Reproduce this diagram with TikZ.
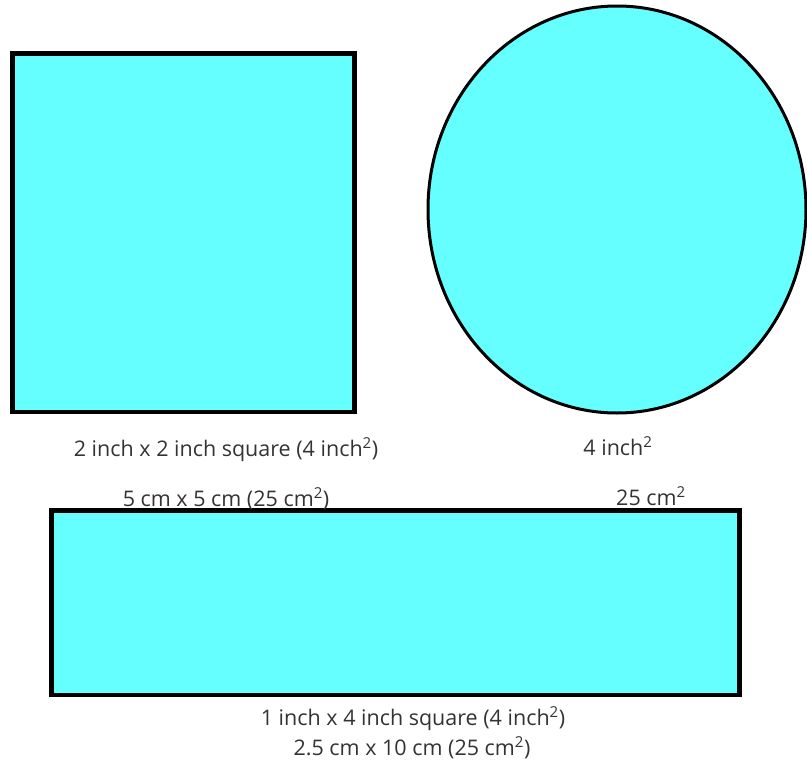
\documentclass[tikz,border=0pt]{standalone}
\usepackage{fontspec}
\setmainfont{Open Sans}
\usepackage{tikz}
\usetikzlibrary{positioning}
\usepackage{xcolor}
\definecolor{shape}{HTML}{66FFFF}
\definecolor{ink}{HTML}{333333}
\tikzset{
  fig/.style={draw=black, fill=shape},
  thick4/.style={fig, line width=4.5pt, line join=miter},
  lbl/.style={font=\fontsize{21.5}{25}\selectfont, text=ink, inner sep=0pt, anchor=base},
}

\begin{document}
\begin{tikzpicture}[x=1pt, y=-1pt]
\useasboundingbox (0,0) rectangle (807,761);

% shapes
\draw[thick4] (12.5,53.5) rectangle (354.5,412);
\draw[fig, line width=3pt] (617,209.5) ellipse [x radius=189, y radius=203.5];
\draw[thick4] (51.5,510.5) rectangle (739.5,695);

% labels
\node[lbl] (sqin) at (226,456) {2 inch x 2 inch square (4 inch\textsuperscript{2})};
\node[lbl] (cin) at (618,455) {4 inch\textsuperscript{2}};
\node[lbl] (sqcm) at (226,506) {5 cm x 5 cm (25 cm\textsuperscript{2})};
\node[lbl] (ccm) at (651,505) {25 cm\textsuperscript{2}};
\node[lbl] (rin) at (413,725) {1 inch x 4 inch square (4 inch\textsuperscript{2})};
\node[lbl] (rcm) at (412,755) {2.5 cm x 10 cm (25 cm\textsuperscript{2})};
\end{tikzpicture}
\end{document}
